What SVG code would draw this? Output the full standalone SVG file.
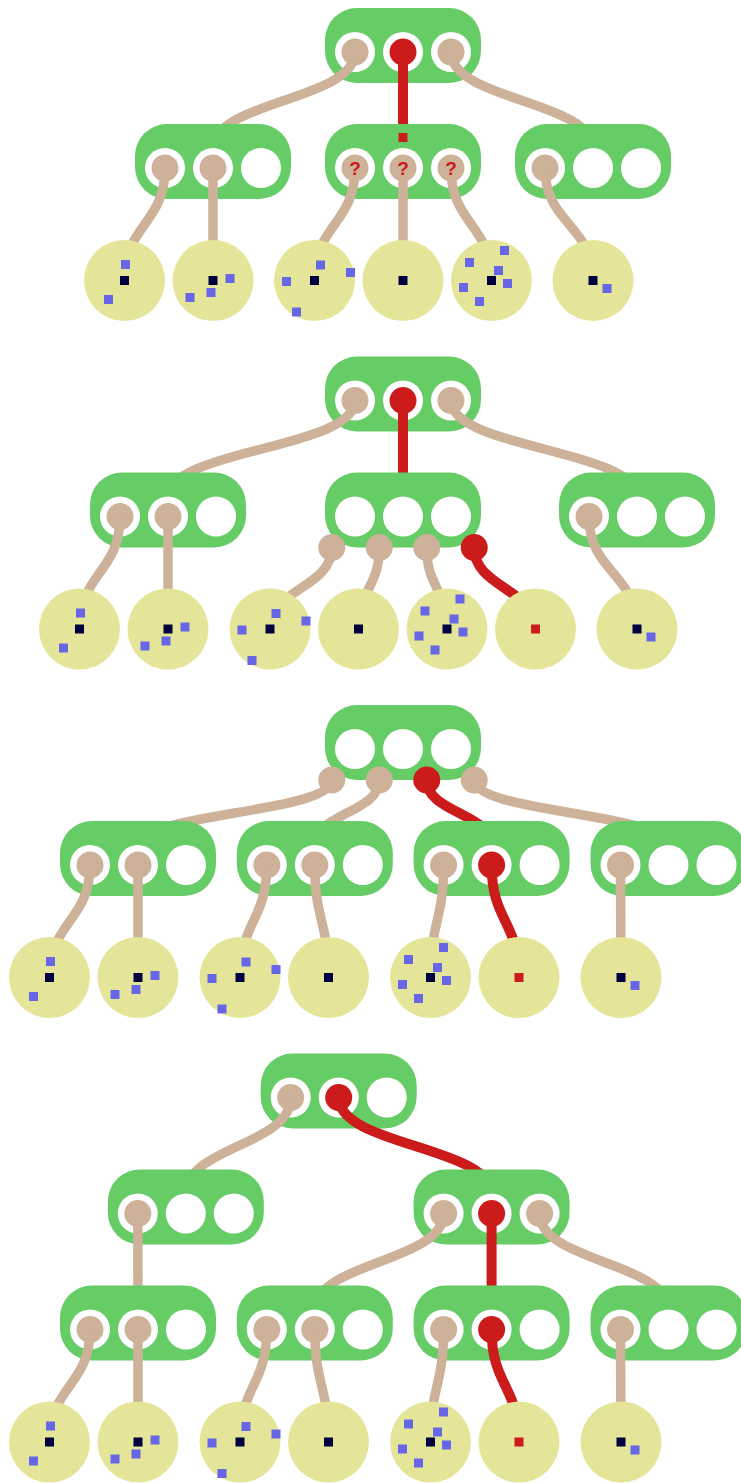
<svg xmlns="http://www.w3.org/2000/svg" xmlns:xlink="http://www.w3.org/1999/xlink" width="741" height="1483" viewBox="0 0 741 1483">
  <style>
    .node { fill: #66cc66; }
    .ring { fill: #ffffff; }
    .dot { fill: #cdb299; }
    .hot { fill: #cc1b1b; }
    .leaf { fill: #e5e599; }
    .pt { fill: #6666e6; }
    .key { fill: #000040; }
    .link { fill: none; stroke: #cdb299; stroke-width: 9.5; }
    .hotlink { fill: none; stroke: #cc1b1b; stroke-width: 10; }
    .mark { fill: #cc1b1b; font-family: "Liberation Sans", Arial, sans-serif; font-weight: bold; font-size: 19px; text-anchor: middle; }
  </style>
  <defs>
    <!-- node body: rounded box with three slots, origin at top centre -->
    <g id="shell">
      <rect class="node" x="-78" y="0" width="156" height="75" rx="32"/>
      <circle class="ring" cx="-48" cy="44" r="20"/>
      <circle class="ring" cx="0" cy="44" r="20"/>
      <circle class="ring" cx="48" cy="44" r="20"/>
    </g>
    <!-- leaf point sets, origin at leaf centre -->
    <g id="pts-a">
      <rect class="pt" x="-3.5" y="-20.5" width="9" height="9"/>
      <rect class="pt" x="-20.5" y="14.5" width="9" height="9"/>
      <rect class="key" x="-4.5" y="-4.5" width="9" height="9"/>
    </g>
    <g id="pts-b">
      <rect class="pt" x="12.5" y="-6.5" width="9" height="9"/>
      <rect class="pt" x="-6.5" y="7.5" width="9" height="9"/>
      <rect class="pt" x="-27.5" y="12.5" width="9" height="9"/>
      <rect class="key" x="-4.5" y="-4.5" width="9" height="9"/>
    </g>
    <g id="pts-c">
      <rect class="pt" x="1.5" y="-20" width="9" height="9"/>
      <rect class="pt" x="31.5" y="-12.5" width="9" height="9"/>
      <rect class="pt" x="-32.5" y="-3.5" width="9" height="9"/>
      <rect class="pt" x="-22.5" y="27" width="9" height="9"/>
      <rect class="key" x="-4.5" y="-4.5" width="9" height="9"/>
    </g>
    <g id="pts-d">
      <rect class="key" x="-4.5" y="-4.5" width="9" height="9"/>
    </g>
    <g id="pts-e">
      <rect class="pt" x="8.5" y="-34.5" width="9" height="9"/>
      <rect class="pt" x="-26.5" y="-22.5" width="9" height="9"/>
      <rect class="pt" x="2.5" y="-14.5" width="9" height="9"/>
      <rect class="pt" x="-32.5" y="2.5" width="9" height="9"/>
      <rect class="pt" x="11.5" y="-1.5" width="9" height="9"/>
      <rect class="pt" x="-16.5" y="16.5" width="9" height="9"/>
      <rect class="key" x="-4.5" y="-4.5" width="9" height="9"/>
    </g>
    <g id="pts-r">
      <rect class="hot" x="-4.5" y="-4.5" width="9" height="9"/>
    </g>
    <g id="pts-f">
      <rect class="pt" x="9.5" y="3.5" width="9" height="9"/>
      <rect class="key" x="-4.5" y="-4.5" width="9" height="9"/>
    </g>
    <circle id="leaf-disc" class="leaf" r="40.5"/>
  </defs>

  <rect x="0" y="0" width="741" height="1483" fill="#ffffff"/>

  <!-- ===== step 1 ===== -->
  <g id="step1">
    <g id="s1-root" transform="translate(403,8)">
      <use href="#shell"/>
      <circle class="dot" cx="-48" cy="44" r="13.5"/>
      <circle class="hot" cx="0" cy="44" r="13.5"/>
      <circle class="dot" cx="48" cy="44" r="13.5"/>
    </g>
    <g id="s1-links-0">
      <path class="link" d="M355,52 C355,100.5 213,100.5 213,149"/>
      <path class="hotlink" d="M403,52 L403,149"/>
      <path class="link" d="M451,52 C451,100.5 593,100.5 593,149"/>
    </g>
    <g id="s1-n-a" transform="translate(213,124)">
      <use href="#shell"/>
      <circle class="dot" cx="-48" cy="44" r="13.5"/>
      <circle class="dot" cx="0" cy="44" r="13.5"/>
    </g>
    <g id="s1-n-b" transform="translate(403,124)">
      <use href="#shell"/>
      <circle class="dot" cx="-48" cy="44" r="13.5"/>
      <circle class="dot" cx="0" cy="44" r="13.5"/>
      <circle class="dot" cx="48" cy="44" r="13.5"/>
      <rect class="hot" x="-4.5" y="9" width="9" height="9"/>
    </g>
    <g id="s1-n-c" transform="translate(593,124)">
      <use href="#shell"/>
      <circle class="dot" cx="-48" cy="44" r="13.5"/>
    </g>
    <g id="s1-links-1">
      <path class="link" d="M165,168 C165,224.25 124.5,224.25 124.5,280.5"/>
      <path class="link" d="M213,168 L213,280.5"/>
      <path class="link" d="M355,168 C355,224.25 314.5,224.25 314.5,280.5"/>
      <path class="link" d="M403,168 L403,280.5"/>
      <path class="link" d="M451,168 C451,224.25 491.5,224.25 491.5,280.5"/>
      <path class="link" d="M545,168 C545,224.25 593,224.25 593,280.5"/>
    </g>
    <g id="s1-marks">
      <text class="mark" x="355" y="175">?</text>
      <text class="mark" x="403" y="175">?</text>
      <text class="mark" x="451" y="175">?</text>
    </g>
    <g id="s1-leaf-1" transform="translate(124.5,280.5)"><use href="#leaf-disc"/><use href="#pts-a"/></g>
    <g id="s1-leaf-2" transform="translate(213,280.5)"><use href="#leaf-disc"/><use href="#pts-b"/></g>
    <g id="s1-leaf-3" transform="translate(314.5,280.5)"><use href="#leaf-disc"/><use href="#pts-c"/></g>
    <g id="s1-leaf-4" transform="translate(403,280.5)"><use href="#leaf-disc"/><use href="#pts-d"/></g>
    <g id="s1-leaf-5" transform="translate(491.5,280.5)"><use href="#leaf-disc"/><use href="#pts-e"/></g>
    <g id="s1-leaf-6" transform="translate(593,280.5)"><use href="#leaf-disc"/><use href="#pts-f"/></g>
  </g>

  <!-- ===== step 2 ===== -->
  <g id="step2" transform="translate(0,348.5)">
    <g id="s2-root" transform="translate(403,8)">
      <use href="#shell"/>
      <circle class="dot" cx="-48" cy="44" r="13.5"/>
      <circle class="hot" cx="0" cy="44" r="13.5"/>
      <circle class="dot" cx="48" cy="44" r="13.5"/>
    </g>
    <g id="s2-links-0">
      <path class="link" d="M355,52 C355,100.5 168,100.5 168,149"/>
      <path class="hotlink" d="M403,52 L403,149"/>
      <path class="link" d="M451,52 C451,100.5 637,100.5 637,149"/>
    </g>
    <g id="s2-n-a" transform="translate(168,124)">
      <use href="#shell"/>
      <circle class="dot" cx="-48" cy="44" r="13.5"/>
      <circle class="dot" cx="0" cy="44" r="13.5"/>
    </g>
    <g id="s2-n-b" transform="translate(403,124)">
      <use href="#shell"/>
    </g>
    <g id="s2-n-c" transform="translate(637,124)">
      <use href="#shell"/>
      <circle class="dot" cx="-48" cy="44" r="13.5"/>
    </g>
    <g id="s2-links-1">
      <path class="link" d="M120,168 C120,224.25 79.5,224.25 79.5,280.5"/>
      <path class="link" d="M168,168 L168,280.5"/>
      <path class="link" d="M331.75,199 C331.75,239.75 270,239.75 270,280.5"/>
      <path class="link" d="M379.25,199 C379.25,239.75 358.5,239.75 358.5,280.5"/>
      <path class="link" d="M426.75,199 C426.75,239.75 447,239.75 447,280.5"/>
      <path class="hotlink" d="M474.25,199 C474.25,239.75 535.5,239.75 535.5,280.5"/>
      <path class="link" d="M589,168 C589,224.25 637,224.25 637,280.5"/>
    </g>
    <!-- overflowing entries of the middle node -->
    <g id="s2-overflow">
      <circle class="dot" cx="331.75" cy="199" r="13.5"/>
      <circle class="dot" cx="379.25" cy="199" r="13.5"/>
      <circle class="dot" cx="426.75" cy="199" r="13.5"/>
      <circle class="hot" cx="474.25" cy="199" r="13.5"/>
    </g>
    <g id="s2-leaf-1" transform="translate(79.5,280.5)"><use href="#leaf-disc"/><use href="#pts-a"/></g>
    <g id="s2-leaf-2" transform="translate(168,280.5)"><use href="#leaf-disc"/><use href="#pts-b"/></g>
    <g id="s2-leaf-3" transform="translate(270,280.5)"><use href="#leaf-disc"/><use href="#pts-c"/></g>
    <g id="s2-leaf-4" transform="translate(358.5,280.5)"><use href="#leaf-disc"/><use href="#pts-d"/></g>
    <g id="s2-leaf-5" transform="translate(447,280.5)"><use href="#leaf-disc"/><use href="#pts-e"/></g>
    <g id="s2-leaf-6" transform="translate(535.5,280.5)"><use href="#leaf-disc"/><use href="#pts-r"/></g>
    <g id="s2-leaf-7" transform="translate(637,280.5)"><use href="#leaf-disc"/><use href="#pts-f"/></g>
  </g>

  <!-- ===== step 3 ===== -->
  <g id="step3" transform="translate(0,697)">
    <g id="s3-root" transform="translate(403,8)">
      <use href="#shell"/>
    </g>
    <g id="s3-links-0">
      <path class="link" d="M331.75,83 C331.75,116 138,116 138,149"/>
      <path class="link" d="M379.25,83 C379.25,116 314.8,116 314.8,149"/>
      <path class="hotlink" d="M426.75,83 C426.75,116 491.6,116 491.6,149"/>
      <path class="link" d="M474.25,83 C474.25,116 668.5,116 668.5,149"/>
    </g>
    <g id="s3-overflow">
      <circle class="dot" cx="331.75" cy="83" r="13.5"/>
      <circle class="dot" cx="379.25" cy="83" r="13.5"/>
      <circle class="hot" cx="426.75" cy="83" r="13.5"/>
      <circle class="dot" cx="474.25" cy="83" r="13.5"/>
    </g>
    <g id="s3-n-a" transform="translate(138,124)">
      <use href="#shell"/>
      <circle class="dot" cx="-48" cy="44" r="13.5"/>
      <circle class="dot" cx="0" cy="44" r="13.5"/>
    </g>
    <g id="s3-n-b" transform="translate(314.8,124)">
      <use href="#shell"/>
      <circle class="dot" cx="-48" cy="44" r="13.5"/>
      <circle class="dot" cx="0" cy="44" r="13.5"/>
    </g>
    <g id="s3-n-c" transform="translate(491.6,124)">
      <use href="#shell"/>
      <circle class="dot" cx="-48" cy="44" r="13.5"/>
      <circle class="hot" cx="0" cy="44" r="13.5"/>
    </g>
    <g id="s3-n-d" transform="translate(668.5,124)">
      <use href="#shell"/>
      <circle class="dot" cx="-48" cy="44" r="13.5"/>
    </g>
    <g id="s3-links-1">
      <path class="link" d="M90,168 C90,224.25 49.5,224.25 49.5,280.5"/>
      <path class="link" d="M138,168 L138,280.5"/>
      <path class="link" d="M266.8,168 C266.8,224.25 240,224.25 240,280.5"/>
      <path class="link" d="M314.8,168 C314.8,224.25 328.5,224.25 328.5,280.5"/>
      <path class="link" d="M443.6,168 C443.6,224.25 430.5,224.25 430.5,280.5"/>
      <path class="hotlink" d="M491.6,168 C491.6,224.25 519,224.25 519,280.5"/>
      <path class="link" d="M620.5,168 C620.5,224.25 621,224.25 621,280.5"/>
    </g>
    <g id="s3-leaf-1" transform="translate(49.5,280.5)"><use href="#leaf-disc"/><use href="#pts-a"/></g>
    <g id="s3-leaf-2" transform="translate(138,280.5)"><use href="#leaf-disc"/><use href="#pts-b"/></g>
    <g id="s3-leaf-3" transform="translate(240,280.5)"><use href="#leaf-disc"/><use href="#pts-c"/></g>
    <g id="s3-leaf-4" transform="translate(328.5,280.5)"><use href="#leaf-disc"/><use href="#pts-d"/></g>
    <g id="s3-leaf-5" transform="translate(430.5,280.5)"><use href="#leaf-disc"/><use href="#pts-e"/></g>
    <g id="s3-leaf-6" transform="translate(519,280.5)"><use href="#leaf-disc"/><use href="#pts-r"/></g>
    <g id="s3-leaf-7" transform="translate(621,280.5)"><use href="#leaf-disc"/><use href="#pts-f"/></g>
  </g>

  <!-- ===== step 4 ===== -->
  <g id="step4" transform="translate(0,1045.5)">
    <g id="s4-root" transform="translate(338.7,8)">
      <use href="#shell"/>
      <circle class="dot" cx="-48" cy="44" r="13.5"/>
      <circle class="hot" cx="0" cy="44" r="13.5"/>
    </g>
    <g id="s4-links-0">
      <path class="link" d="M290.7,52 C290.7,100.5 185.8,100.5 185.8,149"/>
      <path class="hotlink" d="M338.7,52 C338.7,100.5 491.6,100.5 491.6,149"/>
    </g>
    <g id="s4-n-a" transform="translate(185.8,124)">
      <use href="#shell"/>
      <circle class="dot" cx="-48" cy="44" r="13.5"/>
    </g>
    <g id="s4-n-b" transform="translate(491.6,124)">
      <use href="#shell"/>
      <circle class="dot" cx="-48" cy="44" r="13.5"/>
      <circle class="hot" cx="0" cy="44" r="13.5"/>
      <circle class="dot" cx="48" cy="44" r="13.5"/>
    </g>
    <g id="s4-links-1">
      <path class="link" d="M137.8,168 C137.8,216.5 138,216.5 138,265"/>
      <path class="link" d="M443.6,168 C443.6,216.5 314.8,216.5 314.8,265"/>
      <path class="hotlink" d="M491.6,168 L491.6,265"/>
      <path class="link" d="M539.6,168 C539.6,216.5 668.5,216.5 668.5,265"/>
    </g>
    <g id="s4-n-c" transform="translate(138,240)">
      <use href="#shell"/>
      <circle class="dot" cx="-48" cy="44" r="13.5"/>
      <circle class="dot" cx="0" cy="44" r="13.5"/>
    </g>
    <g id="s4-n-d" transform="translate(314.8,240)">
      <use href="#shell"/>
      <circle class="dot" cx="-48" cy="44" r="13.5"/>
      <circle class="dot" cx="0" cy="44" r="13.5"/>
    </g>
    <g id="s4-n-e" transform="translate(491.6,240)">
      <use href="#shell"/>
      <circle class="dot" cx="-48" cy="44" r="13.5"/>
      <circle class="hot" cx="0" cy="44" r="13.5"/>
    </g>
    <g id="s4-n-f" transform="translate(668.5,240)">
      <use href="#shell"/>
      <circle class="dot" cx="-48" cy="44" r="13.5"/>
    </g>
    <g id="s4-links-2">
      <path class="link" d="M90,284 C90,340.25 49.5,340.25 49.5,396.5"/>
      <path class="link" d="M138,284 L138,396.5"/>
      <path class="link" d="M266.8,284 C266.8,340.25 240,340.25 240,396.5"/>
      <path class="link" d="M314.8,284 C314.8,340.25 328.5,340.25 328.5,396.5"/>
      <path class="link" d="M443.6,284 C443.6,340.25 430.5,340.25 430.5,396.5"/>
      <path class="hotlink" d="M491.6,284 C491.6,340.25 519,340.25 519,396.5"/>
      <path class="link" d="M620.5,284 C620.5,340.25 621,340.25 621,396.5"/>
    </g>
    <g id="s4-leaf-1" transform="translate(49.5,396.5)"><use href="#leaf-disc"/><use href="#pts-a"/></g>
    <g id="s4-leaf-2" transform="translate(138,396.5)"><use href="#leaf-disc"/><use href="#pts-b"/></g>
    <g id="s4-leaf-3" transform="translate(240,396.5)"><use href="#leaf-disc"/><use href="#pts-c"/></g>
    <g id="s4-leaf-4" transform="translate(328.5,396.5)"><use href="#leaf-disc"/><use href="#pts-d"/></g>
    <g id="s4-leaf-5" transform="translate(430.5,396.5)"><use href="#leaf-disc"/><use href="#pts-e"/></g>
    <g id="s4-leaf-6" transform="translate(519,396.5)"><use href="#leaf-disc"/><use href="#pts-r"/></g>
    <g id="s4-leaf-7" transform="translate(621,396.5)"><use href="#leaf-disc"/><use href="#pts-f"/></g>
  </g>
</svg>
